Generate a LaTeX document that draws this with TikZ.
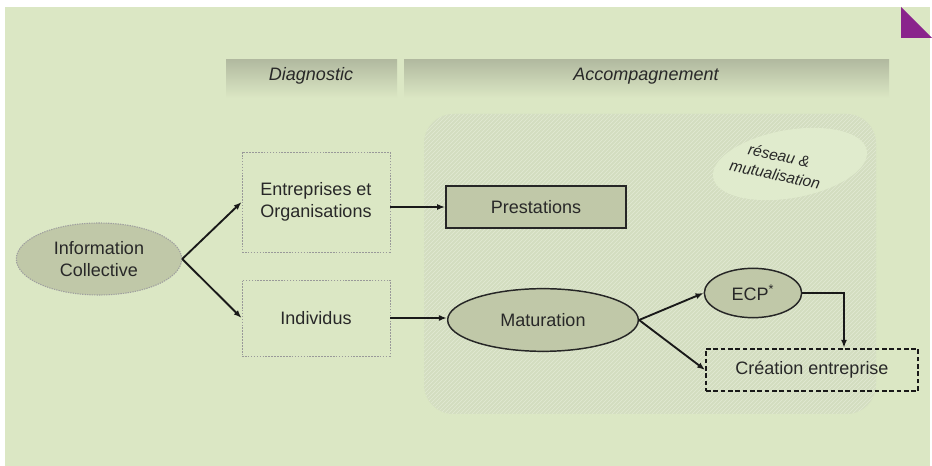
\documentclass[tikz,border=0pt]{standalone}
\usepackage{fontspec}
\setmainfont{Liberation Sans}
\usetikzlibrary{shapes.geometric,arrows.meta,patterns}

\definecolor{fondvert}{RGB}{219,231,196}
\definecolor{zonevert}{RGB}{211,221,192}
\definecolor{hachure}{RGB}{226,234,212}
\definecolor{grisvert}{RGB}{192,200,168}
\definecolor{grisbar}{RGB}{178,186,160}
\definecolor{texte}{RGB}{40,40,40}
\definecolor{violet}{RGB}{138,36,140}

\tikzset{every picture/.style={line width=0.75pt}}
\tikzset{
  lettre/.style={text=texte, font=\fontsize{13.5}{16}\selectfont, align=center, inner sep=0pt},
  etape/.style={lettre, draw=gray!80, line width=0.6pt, dash pattern=on 1.2pt off 1pt},
  bulle/.style={lettre, ellipse, draw=black!85, line width=1.1pt, fill=grisvert},
  fleche/.style={draw=black!90, line width=1.4pt, -{Latex[length=6pt,width=4.5pt]}},
  bandeau/.style={top color=grisbar, bottom color=fondvert, draw=none}
}

\begin{document}
\begin{tikzpicture}[x=0.75pt,y=0.75pt,yscale=-1,xscale=1]
\useasboundingbox (0,0) rectangle (932,466);
\fill[white] (0,0) rectangle (932,466);

%Shape: Rectangle [fond]
\fill[fondvert] (5,7) rectangle (930,466);
%Shape: Triangle [coin]
\fill[violet] (901,7) -- (932,38) -- (901,38) -- cycle;

%Shape: Rectangle [bandeaux]
\shade[bandeau] (226,60) rectangle (397,98);
\shade[bandeau] (404,60) rectangle (889,98);

%Shape: Rounded Rectangle [zone hachuree]
\fill[zonevert, rounded corners=22] (424,114) rectangle (876,414);
\fill[pattern=north east lines, pattern color=hachure, rounded corners=22] (424,114) rectangle (876,414);
%Shape: Ellipse [reseau]
\fill[fondvert!85!white, rotate around={-10:(790,164)}] (790,164) ellipse (78 and 34);

% Text Node
\node (diag) [lettre, font=\fontsize{13.5}{16}\selectfont\itshape] at (311,76) {Diagnostic};
% Text Node
\node (accomp) [lettre, font=\fontsize{13.5}{16}\selectfont\itshape] at (646,76) {Accompagnement};
% Text Node
\node (reseau) [lettre, font=\fontsize{11.7}{14.5}\selectfont\itshape, rotate=-12] at (777,165) {réseau \&\\mutualisation};

%Shape: Ellipse [info]
\node (info) [lettre, ellipse, draw=gray!75, line width=0.8pt, dash pattern=on 1pt off 0.8pt, fill=grisvert, minimum width=124pt, minimum height=54pt] at (99,259) {Information\\Collective};
%Shape: Rectangle [entreprises]
\node (entr) [etape, minimum width=111pt, minimum height=75pt] at (316,202) {Entreprises et\\Organisations};
%Shape: Rectangle [individus]
\node (indiv) [etape, minimum width=111pt, minimum height=57pt] at (316,318) {Individus};
%Shape: Rectangle [prestations]
\node (prest) [lettre, draw=black!85, line width=1.3pt, fill=grisvert, minimum width=135pt, minimum height=32pt] at (536,207) {Prestations};
%Shape: Ellipse [maturation]
\node (matur) [bulle, minimum width=143pt, minimum height=47pt] at (543,320) {Maturation};
%Shape: Ellipse [ecp]
\node (ecp) [bulle, minimum width=73pt, minimum height=37pt] at (753,293) {ECP\textsuperscript{*}};
%Shape: Rectangle [creation]
\node (creat) [lettre, draw=black!90, line width=1.3pt, dash pattern=on 3.5pt off 2pt, minimum width=159pt, minimum height=32pt] at (812,370) {Création entreprise};

%Straight Lines [fleches]
\draw[fleche] (info.east) -- (entr.west);
\draw[fleche] (info.east) -- (indiv.west);
\draw[fleche] (entr.east |- prest.west) -- (prest.west);
\draw[fleche] (indiv.east) -- (indiv.east -| matur.west);
\draw[fleche] (matur.east) -- (ecp.west);
\draw[fleche] (matur.east) -- (creat.west);
\draw[fleche] (ecp.east) -| ([xshift=24pt]creat.north);

\end{tikzpicture}
\end{document}
